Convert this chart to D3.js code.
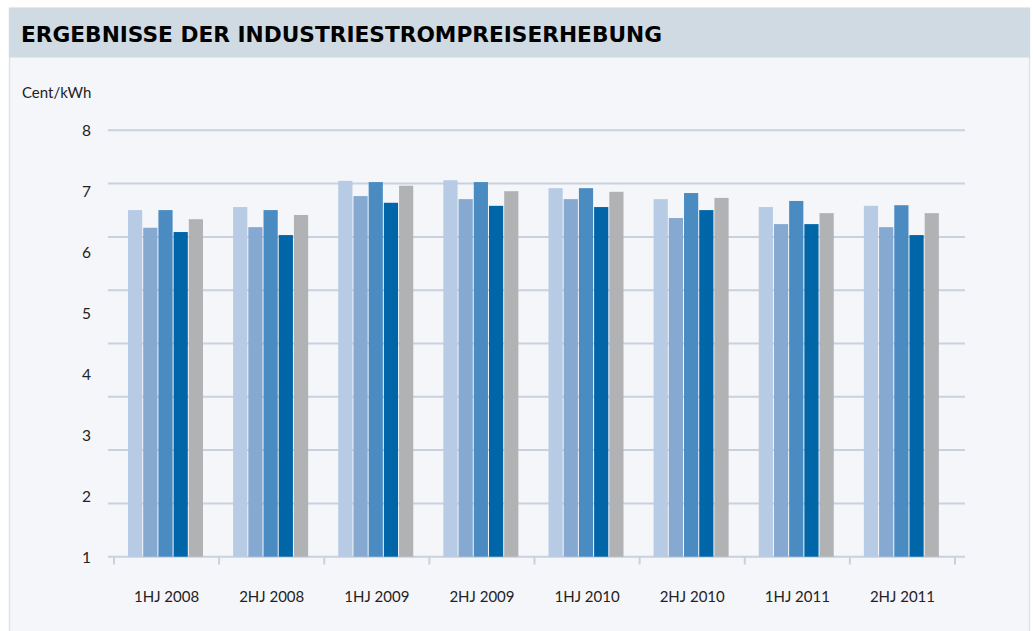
<!DOCTYPE html>
<html>
<head>
<meta charset="utf-8">
<script src="https://cdn.jsdelivr.net/npm/d3@7"></script>
<style>
  html, body { margin: 0; padding: 0; background: #ffffff; }
  svg { display: block; }
</style>
</head>
<body>
<svg id="chart" width="1033" height="631"></svg>
<script>
// ---- data ----
const title = "ERGEBNISSE DER INDUSTRIESTROMPREISERHEBUNG";
const unitLabel = "Cent/kWh";
const categories = ["1HJ 2008", "2HJ 2008", "1HJ 2009", "2HJ 2009", "1HJ 2010", "2HJ 2010", "1HJ 2011", "2HJ 2011"];
const seriesNames = ["S1", "S2", "S3", "S4", "S5"];
const series1 = [6.69, 6.74, 7.17, 7.18, 7.05, 6.87, 6.74, 6.76];
const series2 = [6.40, 6.41, 6.92, 6.87, 6.87, 6.56, 6.46, 6.41];
const series3 = [6.69, 6.69, 7.15, 7.15, 7.05, 6.97, 6.84, 6.77];
const series4 = [6.33, 6.28, 6.81, 6.76, 6.74, 6.69, 6.46, 6.28];
const series5 = [6.54, 6.61, 7.09, 7.00, 6.99, 6.89, 6.64, 6.64];
const yTickLabels = [1, 2, 3, 4, 5, 6, 7, 8];
const colors = ["#b7cbe4", "#85a9d0", "#4a8bc2", "#0066a8", "#b1b2b4"];

const allSeries = [series1, series2, series3, series4, series5];

const svg = d3.select("#chart");

// panel + header
svg.append("rect").attr("x", 9.5).attr("y", 8).attr("width", 1020).attr("height", 630)
  .attr("fill", "#f5f6fa").attr("stroke", "#dde3ec").attr("stroke-width", 1.5);
svg.append("rect").attr("x", 9).attr("y", 8).attr("width", 1021).attr("height", 49.5)
  .attr("fill", "#d0dae3");
svg.append("text").attr("x", 21).attr("y", 41.7)
  .attr("font-family", "DejaVu Sans, sans-serif").attr("font-weight", "bold")
  .attr("font-size", 21.5).attr("fill", "#000")
  .attr("textLength", 641).attr("lengthAdjust", "spacingAndGlyphs")
  .text(title);

// scales
const y = d3.scaleLinear().domain([1, 8]).range([556.7, 130.3]);
const x0 = d3.scaleBand().domain(categories).range([114, 955]).padding(0);
const x1 = d3.scaleBand().domain(seriesNames).range([14, 89]).paddingInner(1 / 15).paddingOuter(0);

// gridlines (9 evenly spaced lines across the value range)
const gridValues = d3.range(9).map(k => 1 + k * 7 / 8);
svg.append("g").selectAll("line").data(gridValues).join("line")
  .attr("x1", 108).attr("x2", 965)
  .attr("y1", d => y(d)).attr("y2", d => y(d))
  .attr("stroke", "#c9d0de").attr("stroke-width", 2);

// unit label
svg.append("text").attr("x", 22).attr("y", 98)
  .attr("font-family", "Lato, sans-serif").attr("font-size", 15).attr("fill", "#222")
  .text(unitLabel);

// y axis labels
const yAxis = d3.axisLeft(y).tickValues(yTickLabels).tickSize(0).tickPadding(0).tickFormat(d3.format("d"));
const gy = svg.append("g").attr("transform", "translate(91,0)").call(yAxis);
gy.select(".domain").remove();
gy.selectAll("text").attr("font-family", "Lato, sans-serif").attr("font-size", 15.5).attr("fill", "#222")
  .attr("dy", "0.36em");

// x axis
const xAxis = d3.axisBottom(x0).tickSize(0).tickPadding(0);
const gx = svg.append("g").attr("transform", "translate(0,556.7)").call(xAxis);
gx.select(".domain").remove();
gx.selectAll("text").attr("font-family", "Lato, sans-serif").attr("font-size", 15).attr("fill", "#222")
  .attr("y", 45).attr("dy", 0);
// tick marks at band boundaries
const boundaries = categories.map(c => x0(c)).concat([x0.range()[1]]);
svg.append("g").selectAll("line").data(boundaries).join("line")
  .attr("x1", d => d).attr("x2", d => d)
  .attr("y1", 556.7).attr("y2", 564.5)
  .attr("stroke", "#c9d0de").attr("stroke-width", 2);

// bars
const groups = svg.append("g").selectAll("g").data(categories).join("g")
  .attr("transform", d => `translate(${x0(d)},0)`);
groups.selectAll("rect")
  .data((c, i) => allSeries.map((s, j) => ({ name: seriesNames[j], value: s[i], color: colors[j] })))
  .join("rect")
  .attr("x", d => x1(d.name))
  .attr("width", x1.bandwidth())
  .attr("y", d => y(d.value))
  .attr("height", d => y(1) - y(d.value))
  .attr("fill", d => d.color);
</script>
</body>
</html>
